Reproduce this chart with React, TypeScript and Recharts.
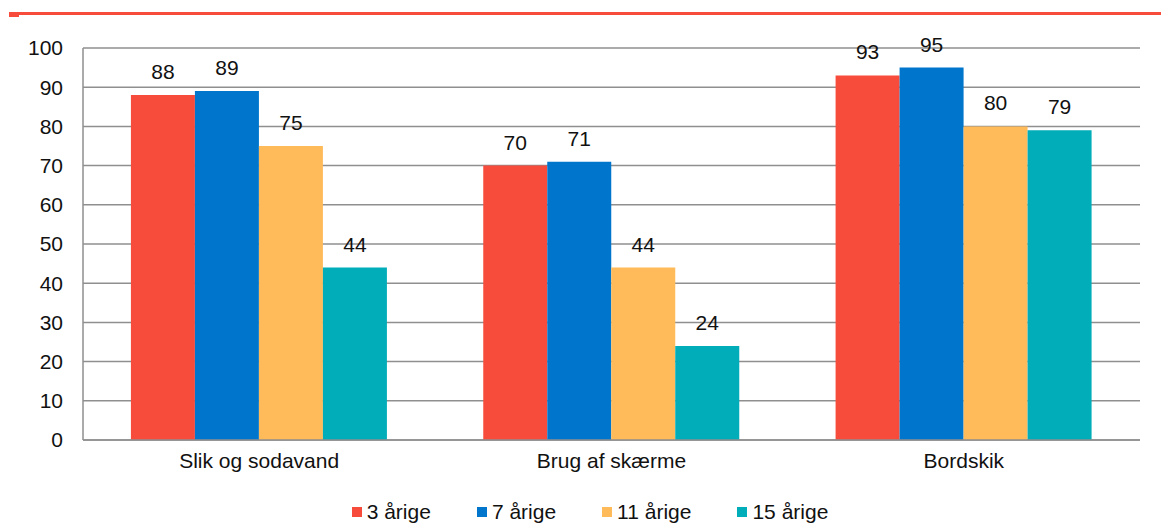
import React from 'react';
import { BarChart, Bar, XAxis, YAxis, CartesianGrid, Legend, LabelList } from 'recharts';

const categories = ['Slik og sodavand', 'Brug af skærme', 'Bordskik'];
const seriesNames = ['3 årige', '7 årige', '11 årige', '15 årige'];
const seriesColors = ['#F74C3C', '#0075CC', '#FFBA5A', '#00ADB9'];
const age3 = [88, 70, 93];
const age7 = [89, 71, 95];
const age11 = [75, 44, 80];
const age15 = [44, 24, 79];
const yTicks = [0, 10, 20, 30, 40, 50, 60, 70, 80, 90, 100];

const seriesValues = [age3, age7, age11, age15];
const keys = ['a3', 'a7', 'a11', 'a15'];

const data = categories.map((name, i) => {
    const row: Record<string, string | number> = { name };
    keys.forEach((k, s) => {
        row[k] = seriesValues[s][i];
    });
    return row;
});

const font = '"Liberation Sans", Arial, sans-serif';
const fs = 21;

function ChartLegend() {
    return (
        <div style={{ display: 'flex', justifyContent: 'center', paddingLeft: 40, fontFamily: font, fontSize: fs, color: '#111', lineHeight: '22px' }}>
            {seriesNames.map((n, i) => (
                <div key={n} style={{ display: 'flex', alignItems: 'center', marginRight: i < seriesNames.length - 1 ? 46 : 0 }}>
                    <span style={{ width: 10, height: 10, background: seriesColors[i], display: 'inline-block', marginRight: 5 }} />
                    <span>{n}</span>
                </div>
            ))}
        </div>
    );
}

export default function App() {
    return (
        <div style={{ position: 'absolute', top: 0, left: 0, width: 1161, height: 531, background: '#fff' }}>
            {/* header rule */}
            <div style={{ position: 'absolute', top: 12, left: 9, right: 0, height: 3, background: '#F74C3C' }} />
            <div style={{ position: 'absolute', top: 15, left: 9, width: 10, height: 2, background: '#F74C3C' }} />
            <BarChart
                width={1161}
                height={531}
                data={data}
                margin={{ top: 48, right: 21, bottom: 9, left: 0 }}
                barCategoryGap="13.6%"
                barGap={0}
            >
                <CartesianGrid vertical={false} stroke="#8f8f8f" strokeWidth={1.5} />
                <XAxis
                    dataKey="name"
                    height={60}
                    tickLine={false}
                    tickMargin={7}
                    axisLine={{ stroke: '#8f8f8f', strokeWidth: 1.5 }}
                    tick={{ fill: '#111', fontSize: fs, fontFamily: font }}
                />
                <YAxis
                    width={83}
                    domain={[0, 100]}
                    ticks={yTicks}
                    interval={0}
                    tickLine={false}
                    tickMargin={14}
                    axisLine={{ stroke: '#8f8f8f', strokeWidth: 1.5 }}
                    tick={{ fill: '#111', fontSize: fs, fontFamily: font }}
                />
                <Legend verticalAlign="bottom" wrapperStyle={{ bottom: 8 }} content={() => <ChartLegend />} />
                {keys.map((k, s) => (
                    <Bar key={k} dataKey={k} name={seriesNames[s]} fill={seriesColors[s]} isAnimationActive={false}>
                        <LabelList dataKey={k} position="top" offset={16} fill="#111" fontSize={fs} fontFamily={font} />
                    </Bar>
                ))}
            </BarChart>
        </div>
    );
}
